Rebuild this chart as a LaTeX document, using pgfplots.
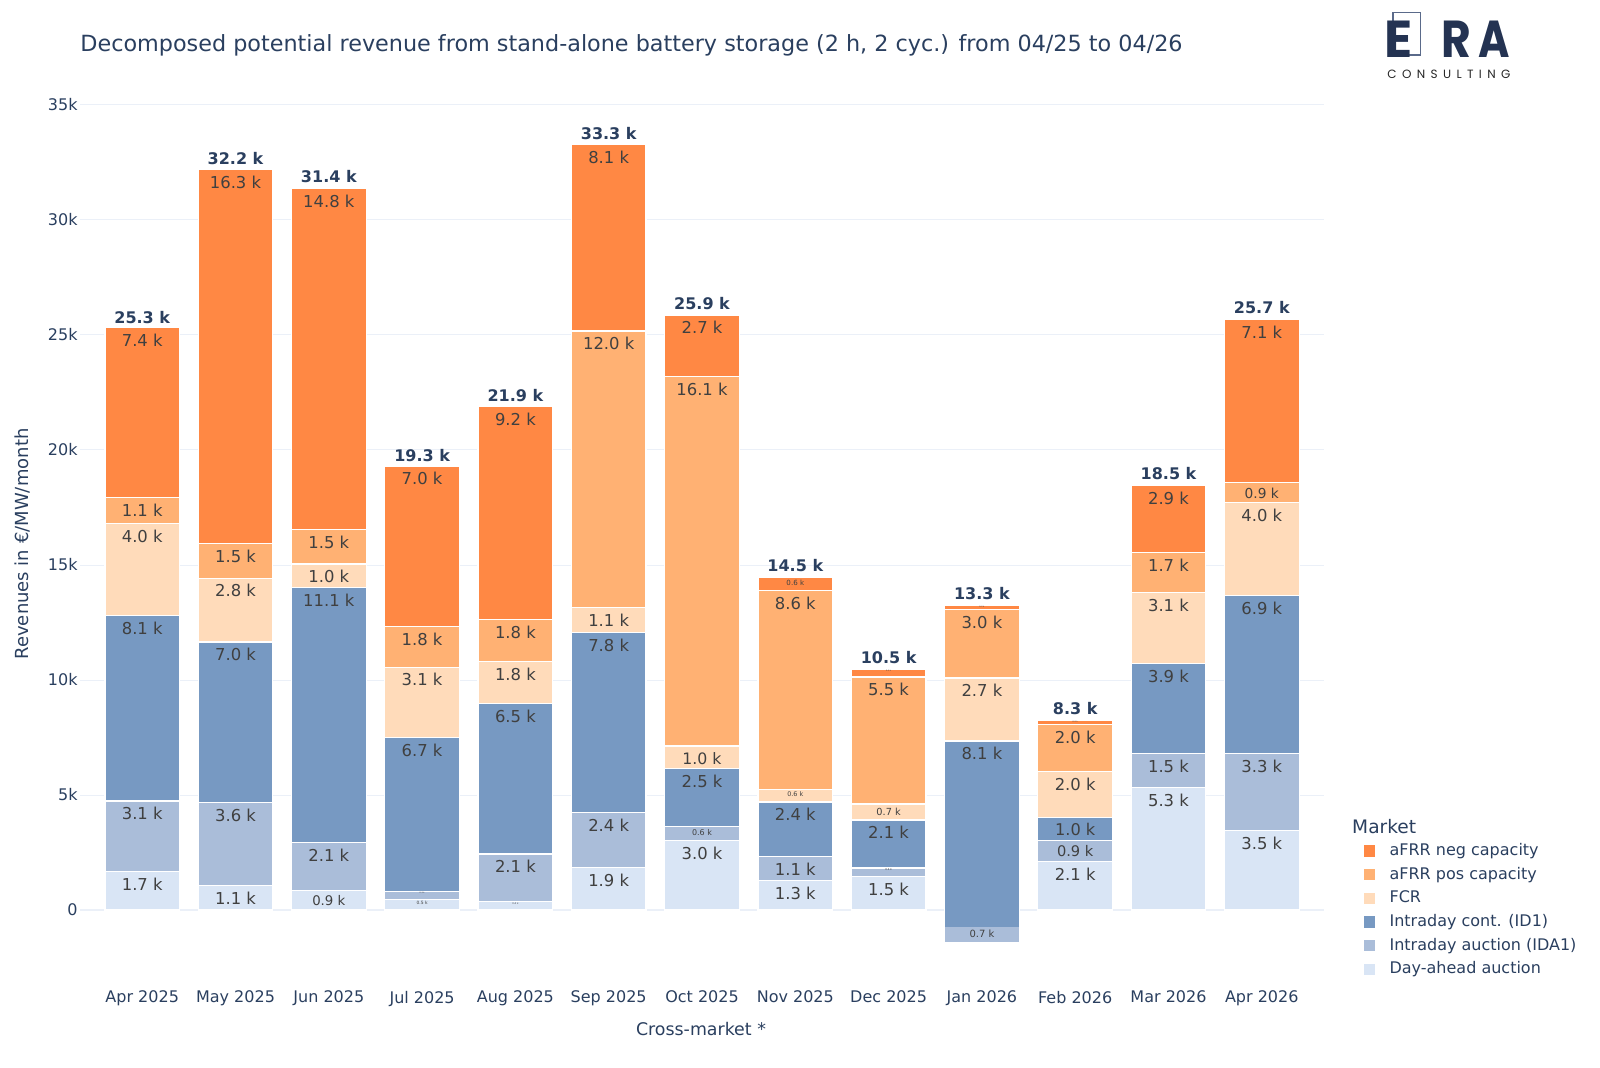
\documentclass[border=0pt]{standalone}
\usepackage{fontspec}
\setmainfont{DejaVu Sans}
\newfontfamily\logofont{Poppins}
\usepackage{pgfplots}
\pgfplotsset{compat=1.18}
\usepackage{pgfplotstable}

\definecolor{navy}{HTML}{2A3F5F}
\definecolor{seglabc}{HTML}{404040}
\definecolor{gridc}{HTML}{EBF0F8}
\definecolor{cNEG}{HTML}{FF8844}
\definecolor{cPOS}{HTML}{FFB173}
\definecolor{cFCR}{HTML}{FFDBBA}
\definecolor{cID}{HTML}{7799C2}
\definecolor{cIDA}{HTML}{AABDD9}
\definecolor{cDA}{HTML}{D9E5F5}
\definecolor{logoc}{HTML}{243352}
\definecolor{logoline}{HTML}{5A6A8A}

% values in thousand EUR/MW/month
\pgfplotstableread{
idx DA IDA1 ID1 FCR pos neg total
0 1.68 3.06 8.06 4.00 1.12 7.40 25.3
1 1.05 3.64 6.96 2.78 1.52 16.25 32.2
2 0.86 2.08 11.08 1.02 1.50 14.84 31.4
3 0.46 0.34 6.70 3.06 1.78 6.96 19.3
4 0.37 2.07 6.54 1.84 1.82 9.24 21.9
5 1.86 2.39 7.80 1.11 12.01 8.10 33.3
6 3.01 0.62 2.53 0.97 16.06 2.68 25.9
7 1.27 1.07 2.36 0.55 8.64 0.58 14.5
8 1.45 0.38 2.08 0.70 5.52 0.32 10.5
9 0.00 -0.71 8.06 2.74 2.98 0.19 13.3
10 2.12 0.92 0.99 1.99 2.03 0.20 8.3
11 5.32 1.48 3.92 3.08 1.74 2.91 18.5
12 3.46 3.34 6.86 4.04 0.88 7.08 25.7
}\datatable

% Jan 2026: the ID1 segment reaches below zero, the negative IDA1 segment sits under it
\pgfplotstableread{
idx idneg ida idalab
9 -0.71 -0.71 0.71
}\jantable

\newsavebox\lbox
% labels sit at the top end inside each segment (pgfplots puts them mid-segment)
\newcommand\seglabel[1]{%
  \pgfkeys{/pgf/fpu=false}%
  \pgfmathsetmacro\av{abs(#1)}%
  \pgfmathparse{\av<0.05?1:0}%
  \ifdim\pgfmathresult pt>0.5pt\else
    \pgfmathsetmacro\sc{min(1,max(0.12,(\av*23-6)/17))}%
    \pgfmathsetlengthmacro\fs{8.2pt*\sc}%
    \pgfmathsetlengthmacro\pd{3.2pt*\sc}%
    \pgfmathsetlengthmacro\sh{5.7504pt*(#1)}%
    \fontsize{\fs}{\fs}\selectfont
    \sbox\lbox{\pgfmathprintnumber[fixed,fixed zerofill,precision=1,assume math mode=true]{\av}\ k}%
    \raisebox{\dimexpr\sh-\pd-\ht\lbox\relax}{\usebox\lbox}%
  \fi}

\begin{document}
\begin{tikzpicture}
\path[use as bounding box] (0,0) rectangle (800pt,-533.5pt);
\pgfplotsset{baseax/.style={at={(40pt,-491.35pt)}, anchor=south west,
  scale only axis, width=622pt, height=439.1pt,
  xmin=-0.667, xmax=12.667, ymin=-3.16, ymax=35.02, clip=false},
  commonax/.style={baseax, ybar stacked, stack negative=on previous, bar width=0.8}}

\begin{axis}[commonax,
  axis line style={draw=none}, major tick length=0pt,
  /pgf/number format/assume math mode=true,
  ytick={0,5,10,15,20,25,30,35},
  yticklabels={0,5k,10k,15k,20k,25k,30k,35k},
  xtick={0,1,2,3,4,5,6,7,8,9,10,11,12},
  xticklabels={Apr 2025,May 2025,Jun 2025,Jul 2025,Aug 2025,Sep 2025,Oct 2025,Nov 2025,Dec 2025,Jan 2026,Feb 2026,Mar 2026,Apr 2026},
  ymajorgrids, grid style={gridc, line width=0.5pt},
  extra y ticks={0}, extra y tick labels={},
  extra y tick style={grid style={gridc, line width=1.2pt}},
  tick label style={font=\fontsize{8}{9.6}\selectfont, text=navy},
  yticklabel style={anchor=east, inner sep=0pt, xshift=-1pt},
  xticklabel style={anchor=north, inner sep=0pt, yshift=-4pt},
  point meta=explicit symbolic,
  nodes near coords={\seglabel{\pgfplotspointmeta}},
  every node near coord/.append style={anchor=base, inner sep=0pt, text=seglabc},
  legend style={at={(rel axis cs:1.0318,0.1591)}, anchor=north west, draw=none, fill=none,
    inner sep=0pt, outer sep=0pt, row sep=3.85pt, font=\fontsize{8}{9.6}\selectfont, text=navy,
    nodes={inner sep=0pt, text height=6.2pt, text depth=1.8pt}},
  legend cell align=left, reverse legend,
  legend image code/.code={\fill[#1,draw=none] (0pt,-2.85pt) rectangle (5.7pt,2.85pt);
    \path[draw=none,fill=none] (0pt,0pt) -- (13pt,0pt);},
]
\addplot[fill=cDA, draw=white, line width=0.6pt] table[x=idx,y=DA,meta=DA]{\datatable};
\addlegendentry{Day-ahead auction}
\addplot[fill=cIDA, draw=white, line width=0.6pt] table[x=idx,y=IDA1,meta=IDA1]{\datatable};
\addlegendentry{Intraday auction (IDA1)}
\addplot[fill=cID, draw=white, line width=0.6pt] table[x=idx,y=ID1,meta=ID1]{\datatable};
\addlegendentry{Intraday cont. (ID1)}
\addplot[fill=cFCR, draw=white, line width=0.6pt] table[x=idx,y=FCR,meta=FCR]{\datatable};
\addlegendentry{FCR}
\addplot[fill=cPOS, draw=white, line width=0.6pt] table[x=idx,y=pos,meta=pos]{\datatable};
\addlegendentry{aFRR pos capacity}
\addplot[fill=cNEG, draw=white, line width=0.6pt] table[x=idx,y=neg,meta=neg]{\datatable};
\addlegendentry{aFRR neg capacity}
\end{axis}

% Jan 2026 part below zero
\begin{axis}[commonax, hide axis, point meta=explicit symbolic,
  every node near coord/.append style={anchor=base, inner sep=0pt, text=seglabc}]
\addplot[fill=cID, draw=cID, line width=0.6pt, bar width=0.787] table[x=idx,y=idneg]{\jantable};
\addplot[fill=cIDA, draw=white, line width=0.6pt,
  nodes near coords={\seglabel{\pgfplotspointmeta}}] table[x=idx,y=ida,meta=idalab]{\jantable};
\end{axis}

% bar totals
\begin{axis}[baseax, hide axis, point meta=explicit symbolic,
  nodes near coords={\fontsize{8}{8}\selectfont\bfseries\pgfplotspointmeta\ k},
  every node near coord/.append style={anchor=base, yshift=2.5pt, inner sep=0pt, text=navy}]
\addplot[draw=none, mark=none] table[x=idx,y=total,meta=total]{\datatable};
\end{axis}

% titles
\node[anchor=base west, inner sep=0pt, text=navy, font=\fontsize{11.15}{14}\selectfont] at (40pt,-25.5pt)
  {Decomposed potential revenue from stand-alone battery storage (2 h, 2 cyc.) from 04/25 to 04/26};
\node[rotate=90, inner sep=0pt, text=navy, font=\fontsize{9}{11}\selectfont] at (11.2pt,-272pt)
  {Revenues in €/MW/month};
\node[inner sep=0pt, text=navy, font=\fontsize{8.7}{10}\selectfont] at (350.5pt,-514.3pt)
  {Cross-market *};
\node[anchor=west, inner sep=0pt, text=navy, font=\fontsize{9.3}{11}\selectfont] at (675.9pt,-413.4pt)
  {Market};

% logo
\draw[logoline, line width=0.6pt] (696.5pt,-6.35pt) rectangle (710.35pt,-27.5pt);
\node[anchor=base west, inner sep=0pt, text=logoc, font=\logofont\bfseries\fontsize{26}{26}\selectfont] at (692.2pt,-28.5pt) {E};
\node[anchor=base west, inner sep=0pt, text=logoc, font=\logofont\bfseries\fontsize{26}{26}\selectfont] at (720.3pt,-28.5pt) {\scalebox{0.88}[1]{R}};
\node[anchor=base east, inner sep=0pt, text=logoc, font=\logofont\bfseries\fontsize{26}{26}\selectfont] at (755pt,-28.5pt) {\scalebox{0.82}[1]{A}};
\node[anchor=base west, inner sep=0pt, text=black!85, font=\logofont\fontsize{6}{6}\selectfont] at (693.5pt,-39pt)
  {\makebox[61.5pt][s]{C\hfill O\hfill N\hfill S\hfill U\hfill L\hfill T\hfill I\hfill N\hfill G}};
\end{tikzpicture}
\end{document}
